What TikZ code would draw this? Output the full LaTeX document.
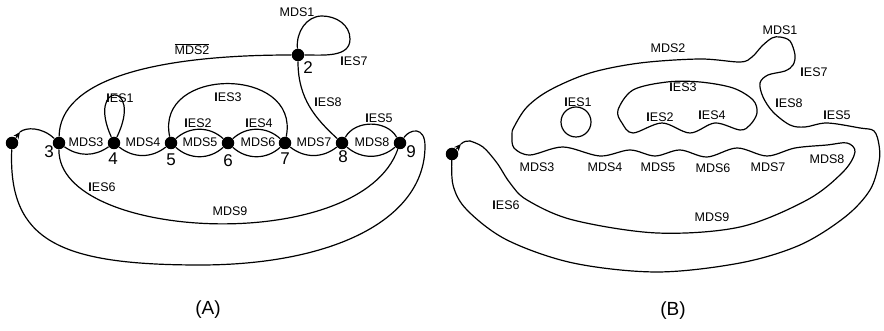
\documentclass[tikz,border=0pt]{standalone}
\usepackage{fontspec}
\setmainfont{Liberation Sans}
\usetikzlibrary{arrows.meta}

\newcommand{\ies}[1]{\textbf{I}ES#1}

\begin{document}
\begin{tikzpicture}[x=1pt,y=1pt,line cap=round,line join=round,line width=1.2pt,
    >={Stealth[length=7pt,width=6pt]},
    dot/.style={circle,fill=black,inner sep=0pt,minimum size=12.5pt},
    lbl/.style={font=\fontsize{12.5}{15}\selectfont,inner sep=0pt},
    num/.style={font=\fontsize{17}{20}\selectfont,inner sep=0pt},
    paneltitle/.style={font=\fontsize{19}{22}\selectfont,inner sep=0pt}]
    \useasboundingbox (0,0) rectangle (884,331);

    % (A) a pontok
    \node[dot] (n0) at (12,188) {};
    \node[dot] (n2) at (298,276) {};
    \node[dot] (n3) at (59,188) {};
    \node[dot] (n4) at (114,188) {};
    \node[dot] (n5) at (171,188) {};
    \node[dot] (n6) at (228,188) {};
    \node[dot] (n7) at (285,188) {};
    \node[dot] (n8) at (342,188) {};
    \node[dot] (n9) at (400,188) {};

    % a pontok sorszamai
    \node[num] (t2) at (308,263) {2};
    \node[num] (t3) at (49,179) {3};
    \node[num] (t4) at (113,172) {4};
    \node[num] (t5) at (171,171) {5};
    \node[num] (t6) at (228,170) {6};
    \node[num] (t7) at (285,172) {7};
    \node[num] (t8) at (343,174) {8};
    \node[num] (t9) at (411,179) {9};

    % hurkok es ivek
    \draw (n2) to[out=95,in=180] (322,315) to[out=0,in=90] (350,292) to[out=-90,in=0] (n2);
    \draw (n2) .. controls (150,276) and (60,250) .. (n3);
    \draw (n2) .. controls (298,232) and (316,212) .. (n8);
    \draw (n4) .. controls (86,250) and (144,250) .. (n4);
    \draw (n5) .. controls (155,265) and (300,265) .. (n7);
    \draw (n3) to[bend right=35] (n4);
    \draw (n4) to[bend right=38] (n5);
    \draw (n5) to[bend left=42] (n6);
    \draw (n5) to[bend right=42] (n6);
    \draw (n6) to[bend left=42] (n7);
    \draw (n6) to[bend right=42] (n7);
    \draw (n7) to[bend right=38] (n8);
    \draw (n8) to[bend left=60] (n9);
    \draw (n8) to[bend right=40] (n9);
    \draw (n3) .. controls (58,90) and (360,75) .. (n9);

    % kezdo nyil es kulso hurok
    \coordinate (a1) at (20,199);
    \draw[->] (n0) -- (a1);
    \draw (a1) .. controls (26,204) and (42,204) .. (n3);
    \draw (n0) .. controls (8,90) and (60,66) .. (200,66)
        .. controls (330,66) and (425,110) .. (425,185)
        .. controls (425,205) and (410,202) .. (n9);

    % (A) feliratai
    \node[lbl] (aMDS1) at (297,319) {MDS1};
    \node[lbl,anchor=south] (aMDS2) at (192,276) {$\overline{\mbox{MDS2}}$};
    \node[lbl] (aIES7) at (354,270) {\ies{7}};
    \node[lbl] (aIES8) at (328,229) {\ies{8}};
    \node[lbl] (aIES1) at (120,233) {\ies{1}};
    \node[lbl] (aIES3) at (228,234) {\ies{3}};
    \node[lbl] (aIES2) at (198,208) {\ies{2}};
    \node[lbl] (aIES4) at (259,208) {\ies{4}};
    \node[lbl] (aIES5) at (379,213) {\ies{5}};
    \node[lbl] (aMDS3) at (86,188.5) {MDS3};
    \node[lbl] (aMDS4) at (143,188.5) {MDS4};
    \node[lbl] (aMDS5) at (200,188.5) {MDS5};
    \node[lbl] (aMDS6) at (258,188.5) {MDS6};
    \node[lbl] (aMDS7) at (314,188.5) {MDS7};
    \node[lbl] (aMDS8) at (372,188.5) {MDS8};
    \node[lbl] (aIES6) at (102,144) {\ies{6}};
    \node[lbl] (aMDS9) at (230,120) {MDS9};
    \node[paneltitle] (capA) at (208,21) {(A)};

    % (B) egyetlen zart gorbe
    \node[dot] (m0) at (452,177) {};
    \coordinate (b1) at (461,187);
    \coordinate (m1) at (470,190);
    \draw[->] (m0) -- (b1);
    \draw (b1) .. controls (464,190) and (467,190) .. (m1);
    \draw plot[smooth,tension=0.55] coordinates {
        (470,190) (483,184) (497,168) (510,148) (527,131) (573,111)
        (657,98) (740,104) (807,131) (843,159) (855,179) (847,188)
        (827,186) (795,183) (767,175) (737,183) (707,174) (680,181)
        (655,175) (630,181) (600,175) (563,184) (530,176) (514,183)
        (512,196) (514,204) (527,224) (550,241) (590,258) (640,268)
        (700,272) (740,269) (752,274) (762,285) (772,293) (780,294)
        (790,290) (795,276) (793,266) (785,260) (768,256) (760,248)
        (763,234) (773,219) (790,206) (805,204) (827,208) (860,203)
        (874,200) (879,186) (879,169) (870,141) (845,114) (800,86)
        (740,68) (657,59) (573,68) (507,91) (467,121) (453,146) (452,177)};

    % belso alakzatok
    \draw (576,209) circle (15);
    \draw plot[smooth cycle,tension=0.55] coordinates {
        (618,221) (622,208) (633,198) (662,208) (690,198) (715,208)
        (740,201) (750,206) (757,218) (753,231) (733,243) (700,249)
        (667,249) (633,241)};

    % (B) feliratai
    \node[lbl] (bMDS2) at (668,283) {MDS2};
    \node[lbl] (bMDS1) at (780,301) {MDS1};
    \node[lbl] (bIES7) at (814,259) {\ies{7}};
    \node[lbl] (bIES8) at (789,228) {\ies{8}};
    \node[lbl] (bIES5) at (837,216) {\ies{5}};
    \node[lbl] (bIES1) at (578,229) {\ies{1}};
    \node[lbl] (bIES3) at (683,244) {\ies{3}};
    \node[lbl] (bIES2) at (660,214) {\ies{2}};
    \node[lbl] (bIES4) at (712,216) {\ies{4}};
    \node[lbl] (bMDS3) at (537,164) {MDS3};
    \node[lbl] (bMDS4) at (605,164) {MDS4};
    \node[lbl] (bMDS5) at (658,164) {MDS5};
    \node[lbl] (bMDS6) at (713,162.5) {MDS6};
    \node[lbl] (bMDS7) at (768,164) {MDS7};
    \node[lbl] (bMDS8) at (827,172) {MDS8};
    \node[lbl] (bIES6) at (506,125.5) {\ies{6}};
    \node[lbl] (bMDS9) at (712,113.5) {MDS9};
    \node[paneltitle] (capB) at (673,20) {(B)};
\end{tikzpicture}
\end{document}
